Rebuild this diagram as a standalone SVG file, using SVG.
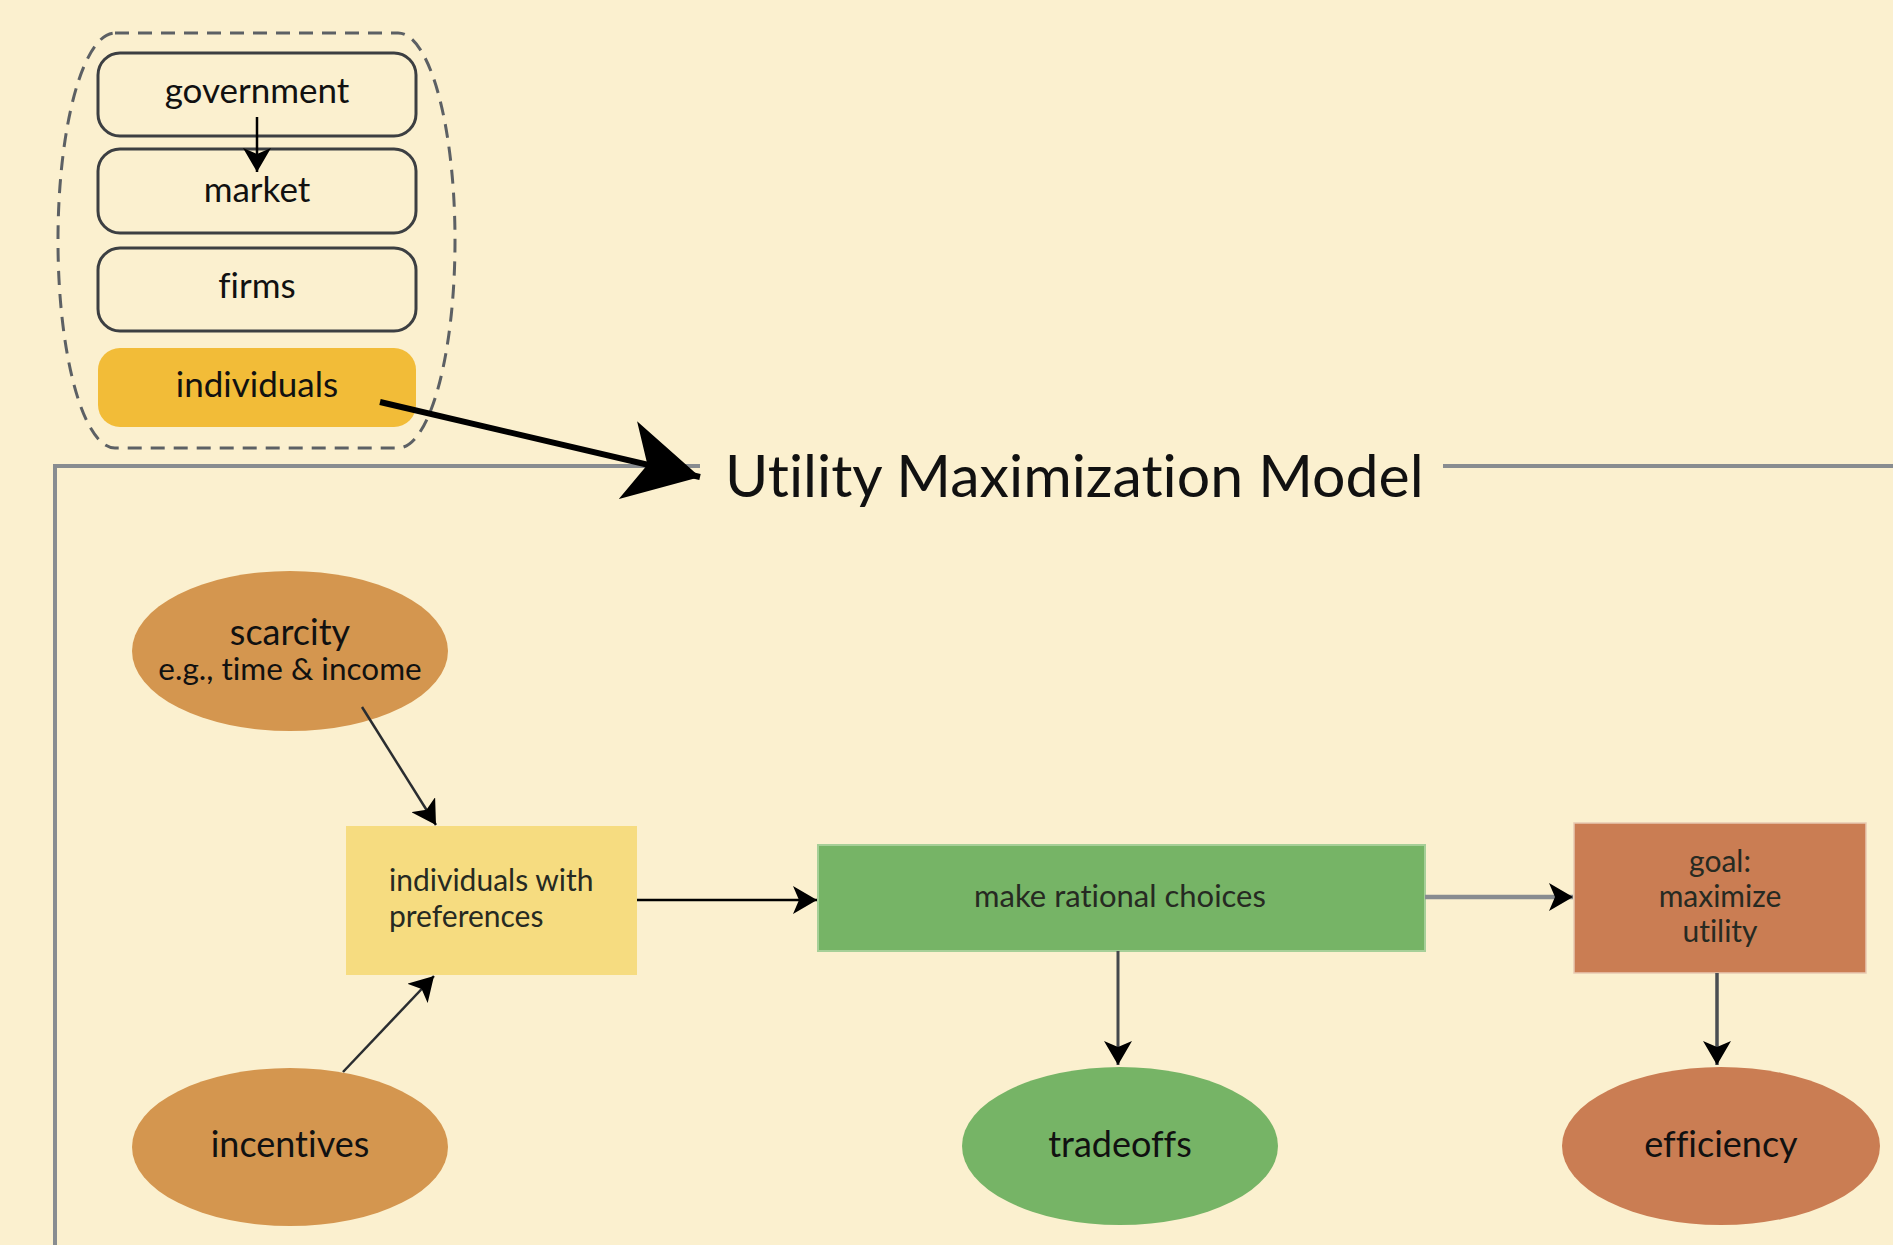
<svg xmlns="http://www.w3.org/2000/svg" width="1893" height="1245" viewBox="0 0 1893 1245">
<style>
text{font-family:Lato,"Liberation Sans",sans-serif;fill:#111;font-variant-ligatures:none;font-feature-settings:"liga" 0,"clig" 0}
.top{font-size:35px;text-anchor:middle}
.outline{fill:none;stroke:#3c3f42;stroke-width:3}
.ell{font-size:36px;text-anchor:middle}
.rtx{font-size:30px;fill:#262a22}
.frame{fill:none;stroke:#888c90;stroke-width:4}
.conn{fill:none}
</style>
<defs>
<marker id="arr" viewBox="0 0 24 28" refX="24" refY="14" markerWidth="24" markerHeight="28" markerUnits="userSpaceOnUse" orient="auto">
<path d="M0,0 L24,14 L0,28 L6,14 Z" fill="#000"/>
</marker>
<marker id="big" viewBox="0 0 74 80" refX="74" refY="40" markerWidth="74" markerHeight="80" markerUnits="userSpaceOnUse" orient="auto">
<path d="M0,0 L74,40 L0,80 L20,40 Z" fill="#000"/>
</marker>
</defs>
<rect width="1893" height="1245" fill="#FBF0CF"/>

<g id="frame">
<path class="frame" d="M700,466 L55,466 L55,1245"/>
<path class="frame" d="M1443,466 L1893,466"/>
<text x="725" y="497" style="font-size:59px">Utility Maximization Model</text>
</g>

<g id="container">
<rect x="58" y="33" width="397" height="415" rx="57" ry="207" fill="none" stroke="#5c6064" stroke-width="3" stroke-dasharray="14 9"/>
</g>

<g id="government">
<rect class="outline" x="98" y="53" width="318" height="83" rx="22"/>
<text class="top" x="257" y="103">government</text>
</g>
<g id="market">
<rect class="outline" x="98" y="149" width="318" height="84" rx="22"/>
<text class="top" x="257" y="202">market</text>
</g>
<g id="firms">
<rect class="outline" x="98" y="248" width="318" height="83" rx="22"/>
<text class="top" x="257" y="298">firms</text>
</g>
<g id="individuals">
<rect x="98" y="348" width="318" height="79" rx="22" fill="#F2BC38"/>
<text class="top" x="257" y="397">individuals</text>
</g>

<g id="scarcity">
<ellipse cx="290" cy="651" rx="158" ry="80" fill="#D4964F"/>
<text class="ell" x="290" y="645">scarcity</text>
<text x="290" y="680" style="font-size:31.5px;text-anchor:middle">e.g., time &amp; income</text>
</g>
<g id="incentives">
<ellipse cx="290" cy="1147" rx="158" ry="79" fill="#D4964F"/>
<text class="ell" x="290" y="1157">incentives</text>
</g>
<g id="individuals-with-preferences">
<rect x="346" y="826" width="291" height="149" fill="#F6DC80"/>
<text class="rtx" x="389" y="891">individuals with</text>
<text class="rtx" x="389" y="927">preferences</text>
</g>
<g id="rational-choices">
<rect x="818" y="845" width="607" height="106" fill="#76B466" stroke="#A6CF98" stroke-width="2"/>
<text class="rtx" x="1120" y="907" style="text-anchor:middle;font-size:31px">make rational choices</text>
</g>
<g id="goal">
<rect x="1574" y="823" width="292" height="150" fill="#CA7D53" stroke="#E8C9B2" stroke-width="1.5"/>
<text class="rtx" x="1720" y="872" style="text-anchor:middle">goal:</text>
<text class="rtx" x="1720" y="907" style="text-anchor:middle">maximize</text>
<text class="rtx" x="1720" y="942" style="text-anchor:middle">utility</text>
</g>
<g id="tradeoffs">
<ellipse cx="1120" cy="1146" rx="158" ry="79" fill="#76B466"/>
<text class="ell" x="1120" y="1157">tradeoffs</text>
</g>
<g id="efficiency">
<ellipse cx="1721" cy="1146" rx="159" ry="79" fill="#CA7D53"/>
<text class="ell" x="1721" y="1157">efficiency</text>
</g>

<g id="connectors" class="conn">
<path d="M257,117 L257,172" stroke="#000" stroke-width="2.5" marker-end="url(#arr)"/>
<path d="M380,402 L700,477" stroke="#000" stroke-width="6" marker-end="url(#big)"/>
<path d="M362,707 L436,825" stroke="#2a2d30" stroke-width="2.5" marker-end="url(#arr)"/>
<path d="M343,1072 L434,976" stroke="#2a2d30" stroke-width="2.5" marker-end="url(#arr)"/>
<path d="M637,900 L817,900" stroke="#000" stroke-width="2.5" marker-end="url(#arr)"/>
<path d="M1118,951 L1118,1065" stroke="#44484c" stroke-width="3" marker-end="url(#arr)"/>
<path d="M1425,897 L1573,897" stroke="#888c90" stroke-width="4.5" marker-end="url(#arr)"/>
<path d="M1717,973 L1717,1065" stroke="#4a4e52" stroke-width="3.5" marker-end="url(#arr)"/>
</g>
</svg>
